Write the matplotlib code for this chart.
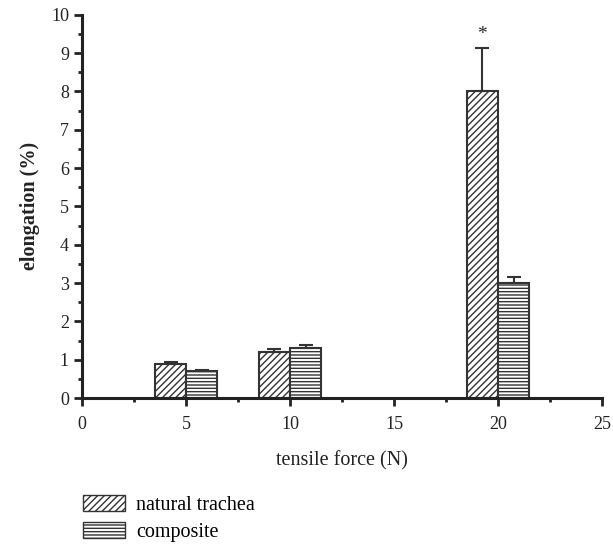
import matplotlib
matplotlib.use("Agg")
import matplotlib.pyplot as plt
import numpy as np
from matplotlib.patches import Patch
from matplotlib.ticker import MultipleLocator

forces = [5, 10, 20]
natural = [0.9, 1.2, 8.0]
natural_err = [0.04, 0.08, 1.12]
composite = [0.7, 1.3, 3.0]
composite_err = [0.03, 0.08, 0.15]
labels = ["natural trachea", "composite"]
bar_w = 1.5

plt.rcParams['font.family'] = ['Liberation Serif', 'DejaVu Serif']
plt.rcParams['hatch.linewidth'] = 1.0
plt.rcParams['hatch.color'] = '#333333'

fig = plt.figure(figsize=(6.13, 5.46), dpi=100)
ax = fig.add_axes([0.134, 0.271, 0.848, 0.702])

ec = '#333333'
x = np.array(forces, dtype=float)
ax.bar(x, natural, width=-bar_w, align='edge', color='white', edgecolor=ec,
       linewidth=1.5, hatch='/////', zorder=2)
ax.bar(x, composite, width=bar_w, align='edge', color='white', edgecolor=ec,
       linewidth=1.5, hatch='-----', zorder=2)
ax.errorbar(x - bar_w / 2, natural, yerr=[np.zeros(3), natural_err], fmt='none',
            ecolor=ec, elinewidth=1.5, capsize=5, capthick=1.5, zorder=3)
ax.errorbar(x + bar_w / 2, composite, yerr=[np.zeros(3), composite_err], fmt='none',
            ecolor=ec, elinewidth=1.5, capsize=5, capthick=1.5, zorder=3)
ax.text(x[2] - bar_w / 2, natural[2] + natural_err[2] + 0.15, '*', ha='center',
        va='bottom', fontsize=14, color='#222222')

ax.set_xlim(0, 25)
ax.set_ylim(0, 10)
ax.xaxis.set_major_locator(MultipleLocator(5))
ax.xaxis.set_minor_locator(MultipleLocator(2.5))
ax.yaxis.set_major_locator(MultipleLocator(1))
ax.yaxis.set_minor_locator(MultipleLocator(0.5))
for s in ['top', 'right']:
    ax.spines[s].set_visible(False)
for s in ['left', 'bottom']:
    ax.spines[s].set_linewidth(2.2)
    ax.spines[s].set_color('#222222')
ax.tick_params(which='major', length=6, width=2, color='#222222', labelsize=13,
               labelcolor='#222222', direction='out')
ax.tick_params(which='minor', length=3, width=2, color='#222222', direction='out')
ax.tick_params(axis='x', which='major', pad=7)

ax.set_xlabel('tensile force (N)', fontsize=14.5, color='#222222', labelpad=13)
ax.set_ylabel('elongation (%)', fontsize=14.5, fontweight='bold', color='#222222', labelpad=8)

handles = [Patch(facecolor='white', edgecolor=ec, hatch='/////', label=labels[0]),
           Patch(facecolor='white', edgecolor=ec, hatch='-----', label=labels[1])]
fig.legend(handles=handles, loc='upper left', bbox_to_anchor=(0.135, 0.094),
           frameon=False, fontsize=14.5, handlelength=2.1, handleheight=0.85,
           labelspacing=0.35, handletextpad=0.55, borderaxespad=0, borderpad=0)

fig.savefig('out.png', dpi=100)
